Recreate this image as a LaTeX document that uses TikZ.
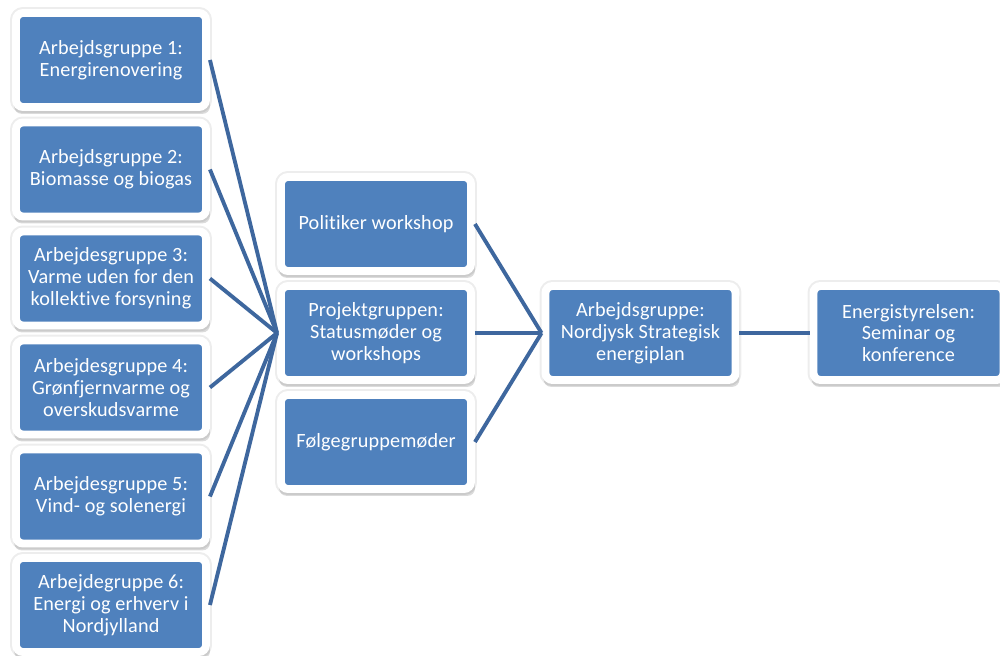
\documentclass[tikz,border=0pt]{standalone}
\usepackage{fontspec}
\setmainfont{Carlito}[Ligatures=NoCommon]
\usepackage{tikz}
\usetikzlibrary{shadows}
\definecolor{boxblue}{RGB}{79,129,189}
\definecolor{linkblue}{RGB}{62,103,158}
\tikzset{
  grp/.style={rectangle, rounded corners=4pt, fill=boxblue, draw=white, line width=4.5pt,
    minimum width=3.8cm, minimum height=1.88cm, align=center, text=white,
    font=\fontsize{11.5}{12.4}\selectfont\addfontfeatures{LetterSpace=0.8},
    preaction={draw=black!7, line width=6.8pt},
    general shadow={fill=black, opacity=0.14, shadow scale=1.03, shadow xshift=0.6pt, shadow yshift=-3pt}},
  link/.style={draw=linkblue, line width=2.2pt}
}
\begin{document}
\begin{tikzpicture}
		%%%%% START %%%%%
		\useasboundingbox (0, 0) rectangle (20, 13.1);
		
		\node[grp] (ag1) at (2.22, 11.9) {Arbejdsgruppe 1:\\Energirenovering};
		\node[grp] (ag2) at (2.22, 9.71) {Arbejdsgruppe 2:\\Biomasse og biogas};
		\node[grp] (ag3) at (2.22, 7.53) {Arbejdesgruppe 3:\\Varme uden for den\\kollektive forsyning};
		\node[grp] (ag4) at (2.22, 5.35) {Arbejdesgruppe 4:\\Grønfjernvarme og\\overskudsvarme};
		\node[grp] (ag5) at (2.22, 3.17) {Arbejdesgruppe 5:\\Vind- og solenergi};
		\node[grp] (ag6) at (2.22, 1.0) {Arbejdegruppe 6:\\Energi og erhverv i\\Nordjylland};
		
		\node[grp] (pol) at (7.52, 8.62) {Politiker workshop};
		\node[grp] (proj) at (7.52, 6.44) {Projektgruppen:\\Statusmøder og\\workshops};
		\node[grp] (folg) at (7.52, 4.26) {Følgegruppemøder};
		
		\node[grp] (nsep) at (12.81, 6.44) {Arbejdsgruppe:\\Nordjysk Strategisk\\energiplan};
		\node[grp] (ens) at (18.17, 6.44) {Energistyrelsen:\\Seminar og\\konference};
		
		\foreach \g in {ag1,ag2,ag3,ag4,ag5,ag6}
		  \draw[link] (\g.east) -- (proj.west);
		\foreach \m in {pol,proj,folg}
		  \draw[link] (\m.east) -- (nsep.west);
		\draw[link] (nsep.east) -- (ens.west);
		
		%%%%% END %%%%%
\end{tikzpicture}
\end{document}
